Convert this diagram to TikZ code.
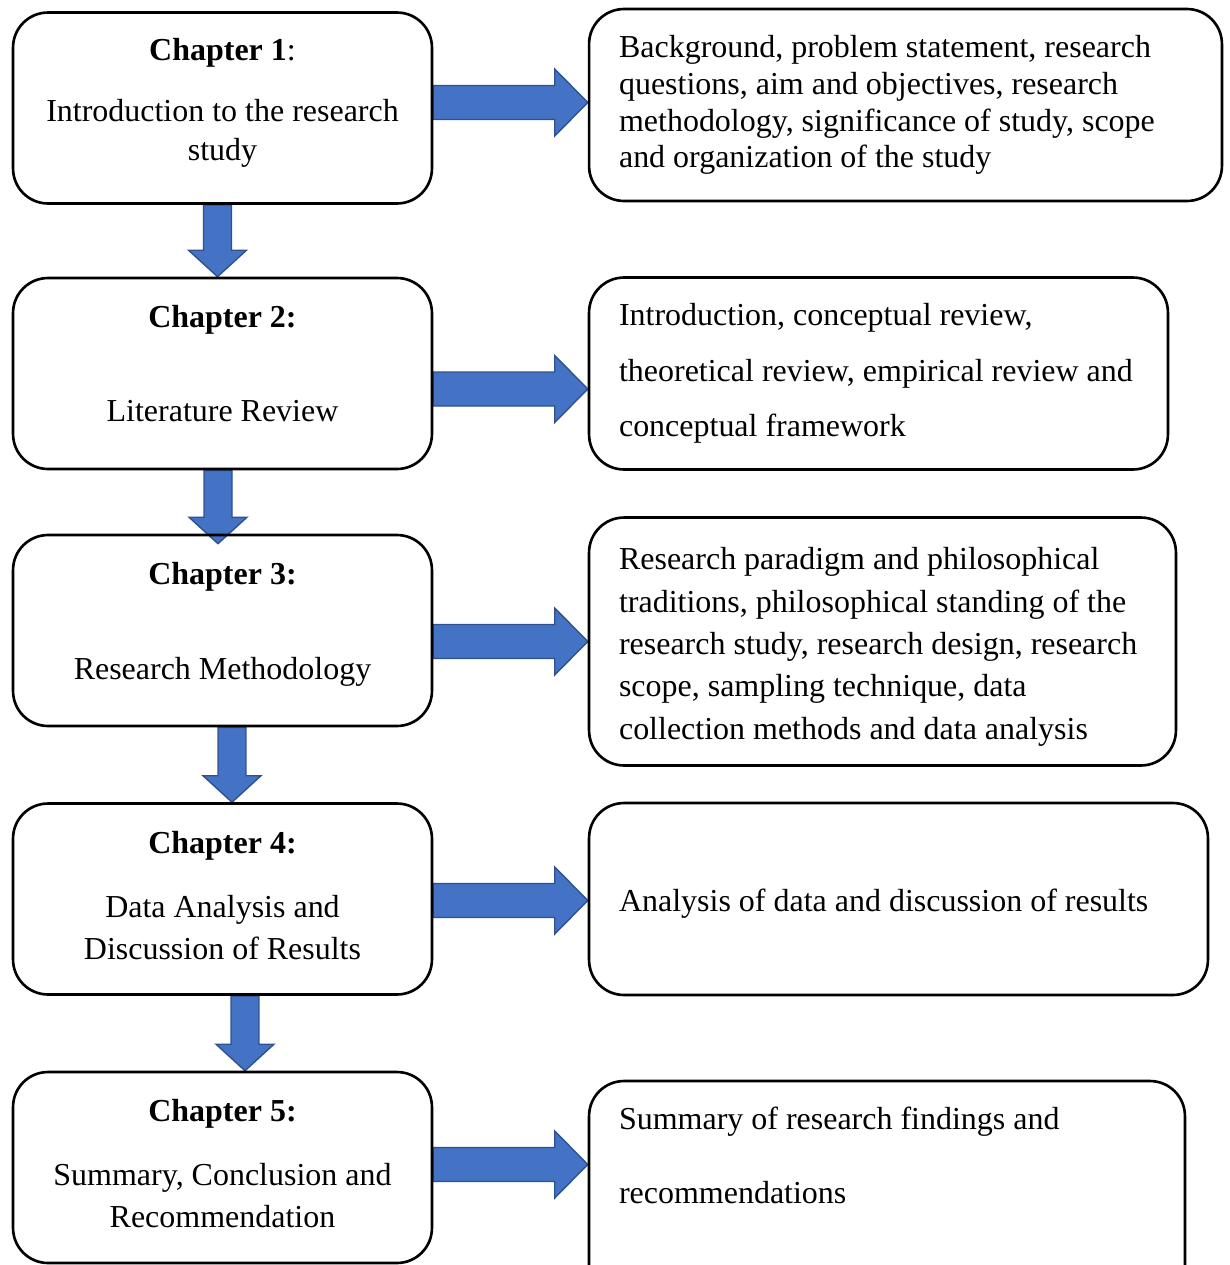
\documentclass[tikz,border=0pt]{standalone}
\usepackage{fontspec}
\setmainfont{Liberation Serif}
\usetikzlibrary{calc,backgrounds}

\definecolor{arrowfill}{HTML}{4472C4}
\definecolor{arrowedge}{HTML}{2F528F}

\tikzset{
  chapbox/.style={draw, line width=1.5pt, rounded corners=0.7cm,
    minimum width=8.38cm, minimum height=3.82cm, inner sep=0pt, align=center,
    font=\fontsize{18.2}{22.2}\selectfont,
    execute at begin node={\spaceskip=0pt\xspaceskip=0pt\relax}},
  descbox/.style={draw, line width=1.5pt, rounded corners=0.7cm,
    inner xsep=0.6cm, inner ysep=0pt, align=flush left,
    font=\fontsize{18.2}{20.9}\selectfont,
    execute at begin node={\spaceskip=0pt\xspaceskip=0pt\hyphenpenalty=10000\relax}},
  % #1 half shaft, #2 half head, #3 head length
  blockarrow/.style n args={3}{draw=arrowedge, fill=arrowfill, line width=0.8pt,
    line join=miter,
    to path={($(\tikztostart)!#1!90:(\tikztotarget)$)
      -- ($($(\tikztotarget)!#3!(\tikztostart)$)!#1!90:(\tikztotarget)$)
      -- ($($(\tikztotarget)!#3!(\tikztostart)$)!#2!90:(\tikztotarget)$)
      -- (\tikztotarget)
      -- ($($(\tikztotarget)!#3!(\tikztostart)$)!#2!-90:(\tikztotarget)$)
      -- ($($(\tikztotarget)!#3!(\tikztostart)$)!#1!-90:(\tikztotarget)$)
      -- ($(\tikztostart)!#1!-90:(\tikztotarget)$) -- cycle}},
  harrow/.style={blockarrow={0.34cm}{0.67cm}{0.66cm}},
  varrow/.style={blockarrow={0.28cm}{0.58cm}{0.53cm}}
}

\begin{document}
\begin{tikzpicture}[x=0.02cm, y=-0.02cm]

\useasboundingbox (0,0) rectangle (1230,1265);
\clip (0,0) rectangle (1230,1265);

% chapters
\node[chapbox, text depth=0.34cm] (c1) at (222.5,108) {\textbf{Chapter 1}:\\[12.5pt] Introduction to the research\\ study};
\node[chapbox, text depth=0.42cm] (c2) at (222.5,373.5) {\textbf{Chapter 2:}\\[31.3pt] Literature Review};
\node[chapbox, text depth=0.38cm] (c3) at (222.5,630.5) {\textbf{Chapter 3:}\\[31.8pt] Research Methodology};
\node[chapbox, text depth=0.16cm] (c4) at (222.5,899) {\textbf{Chapter 4:}\\[14.2pt] Data Analysis and\\[1.7pt] Discussion of Results};
\node[chapbox, text depth=0.16cm] (c5) at (222.5,1167.5) {\textbf{Chapter 5:}\\[14.2pt] Summary, Conclusion and\\[1.7pt] Recommendation};

% contents
\node[descbox, text width=11.46cm, minimum height=3.84cm] (d1) at (905.5,105)
  {Background, problem statement, research\\ questions, aim and objectives, research\\ methodology, significance of study, scope\\ and organization of the study};
\node[descbox, text width=10.38cm, minimum height=3.84cm] (d2) at (878.5,373.5)
  {Introduction, conceptual review,\\[10.7pt] theoretical review, empirical review and\\[10.7pt] conceptual framework};
\node[descbox, text width=10.54cm, minimum height=4.96cm, text height=0.66cm] (d3) at (882.5,641.5)
  {Research paradigm and philosophical\\[3.2pt] traditions, philosophical standing of the\\[3.2pt] research study, research design, research\\[3.2pt] scope, sampling technique, data\\[3.2pt] collection methods and data analysis};
\node[descbox, text width=11.18cm, minimum height=3.84cm, text height=0.64cm] (d4) at (898.5,899)
  {Analysis of data and discussion of results};
\node[descbox, text width=10.72cm, minimum height=4.44cm] (d5) at (887,1192)
  {Summary of research findings and\\[21.2pt] recommendations\\[21.2pt]~};

\begin{scope}[on background layer]
\draw[harrow] ([yshift=0.11cm]c1.east) to ([yshift=0.05cm]d1.west);
\draw[harrow] ([yshift=-0.31cm]c2.east) to ([yshift=-0.31cm]d2.west);
\draw[harrow] ([yshift=-0.22cm]c3.east) to (d3.west);
\draw[harrow] ([yshift=-0.03cm]c4.east) to ([yshift=-0.03cm]d4.west);
\draw[harrow] ([yshift=0.06cm]c5.east) to ([yshift=0.55cm]d5.west);

\draw[varrow] ([xshift=-0.1cm]c1.south) to ([xshift=-0.1cm]c2.north);
\draw[varrow] ([xshift=-0.09cm]c2.south) to ([xshift=-0.09cm,yshift=-0.2cm]c3.north);
\draw[varrow] ([xshift=0.19cm]c3.south) to ([xshift=0.19cm]c4.north);
\draw[varrow] ([xshift=0.45cm]c4.south) to ([xshift=0.45cm]c5.north);
\end{scope}

\end{tikzpicture}
\end{document}
